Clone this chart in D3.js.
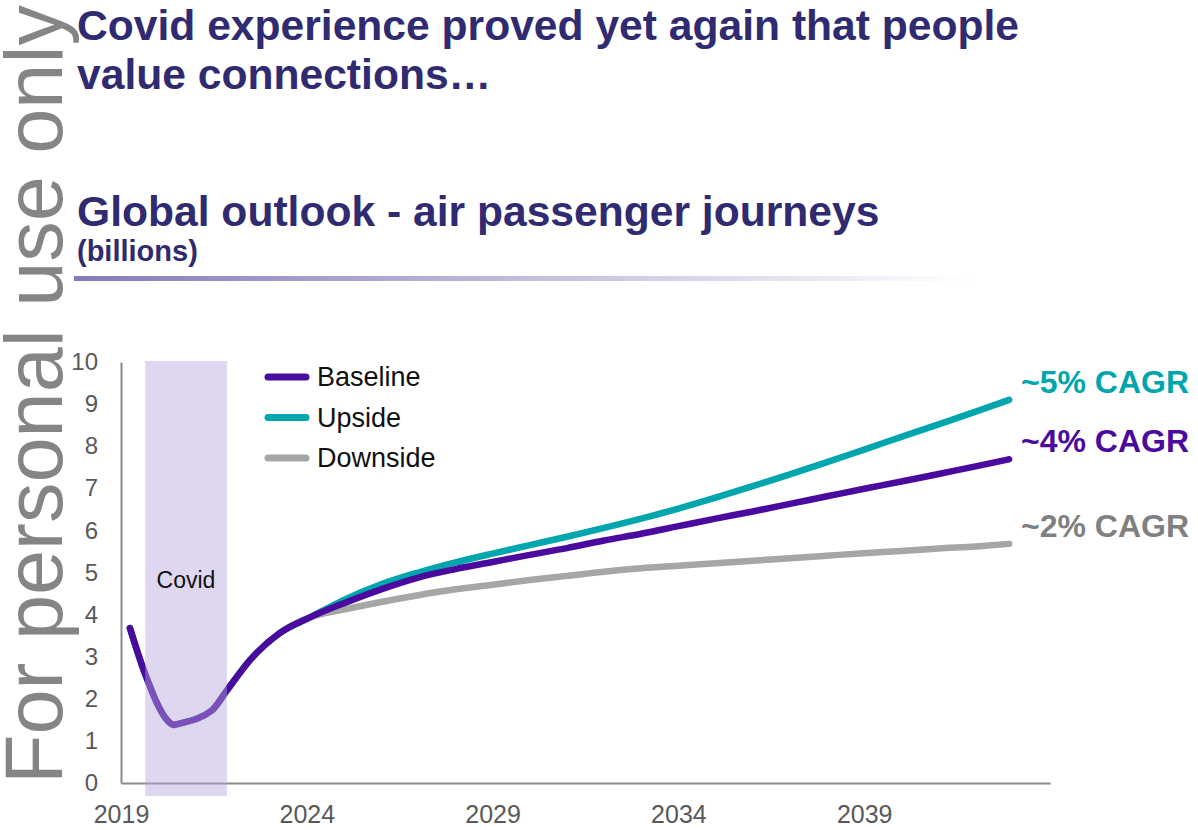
<!DOCTYPE html>
<html>
<head>
<meta charset="utf-8">
<script src="https://cdn.jsdelivr.net/npm/d3@7"></script>
<style>
  html, body { margin: 0; padding: 0; background: #ffffff; }
  svg { display: block; font-family: "Liberation Sans", Arial, Helvetica, sans-serif; }
</style>
</head>
<body>
<svg id="chart" width="1198" height="830"></svg>
<script>
// ---- Data (billions of air passenger journeys) ----
const historyYears  = [2019.24, 2019.64, 2020.33, 2020.42, 2020.52, 2021.45, 2021.85, 2022.47, 2023.27];
const historyValues = [3.68, 2.61, 1.42, 1.38, 1.40, 1.73, 2.2, 2.92, 3.56];

const forecastYears = [2024.1, 2025, 2026, 2027, 2028, 2029, 2030, 2031, 2032, 2033,
                       2034, 2035, 2036, 2037, 2038, 2039, 2040, 2041, 2042, 2042.9];
const baselineValues = [3.94, 4.27, 4.6, 4.88, 5.08, 5.25, 5.42, 5.58, 5.76, 5.92,
                        6.1, 6.28, 6.45, 6.63, 6.81, 6.99, 7.16, 7.34, 7.52, 7.69];
const upsideValues   = [3.94, 4.35, 4.72, 5.0, 5.24, 5.45, 5.65, 5.85, 6.06, 6.28,
                        6.52, 6.78, 7.05, 7.33, 7.62, 7.92, 8.22, 8.52, 8.82, 9.1];
const downsideValues = [3.94, 4.12, 4.3, 4.46, 4.6, 4.71, 4.82, 4.92, 5.02, 5.1,
                        5.16, 5.22, 5.28, 5.34, 5.4, 5.46, 5.51, 5.57, 5.62, 5.68];

const seriesNames  = ["Baseline", "Upside", "Downside"];
const seriesColors = ["#4a0a9e", "#00a6ad", "#a6a6a6"];
const cagrLabels   = ["~4% CAGR", "~5% CAGR", "~2% CAGR"];
const cagrColors   = ["#4a0a9e", "#00a6ad", "#808080"];

const covidPeriod = [2019.65, 2021.85];
const xTickYears  = [2019, 2024, 2029, 2034, 2039];
const yTickValues = [0, 1, 2, 3, 4, 5, 6, 7, 8, 9, 10];
const xDomain = [2019, 2044];
const yDomain = [0, 10];

// ---- Canvas ----
const svg = d3.select("#chart");
const titleColor = "#302b71";

const defs = svg.append("defs");
const fade = defs.append("linearGradient").attr("id", "ruleFade")
  .attr("x1", "0%").attr("x2", "100%").attr("y1", "0%").attr("y2", "0%");
fade.append("stop").attr("offset", "0%").attr("stop-color", "#8779ba");
fade.append("stop").attr("offset", "100%").attr("stop-color", "#ffffff");

// Vertical watermark along the left edge
svg.append("text")
  .attr("transform", "translate(62,784) rotate(-90)")
  .attr("font-size", 81)
  .attr("fill", "#858585")
  .text("For personal use only");

// Headline and chart title
const headline = ["Covid experience proved yet again that people", "value connections…"];
svg.selectAll("text.headline").data(headline).join("text")
  .attr("class", "headline")
  .attr("x", 77).attr("y", (d, i) => 40 + i * 49)
  .attr("font-size", 42.6).attr("font-weight", "bold").attr("fill", titleColor)
  .text(d => d);

svg.append("text")
  .attr("x", 77).attr("y", 226)
  .attr("font-size", 42.6).attr("font-weight", "bold").attr("fill", titleColor)
  .text("Global outlook - air passenger journeys");

svg.append("text")
  .attr("x", 77).attr("y", 261)
  .attr("font-size", 29).attr("font-weight", "bold").attr("fill", titleColor)
  .text("(billions)");

svg.append("rect")
  .attr("x", 74).attr("y", 276).attr("width", 900).attr("height", 5)
  .attr("fill", "url(#ruleFade)");

// ---- Scales ----
const x = d3.scaleLinear().domain(xDomain).range([121, 1050]);
const y = d3.scaleLinear().domain(yDomain).range([783, 362]);

// ---- Axes ----
const axisColor = "#8a8a8a";
const labelColor = "#595959";

const yAxis = svg.append("g")
  .attr("transform", `translate(${x(xDomain[0])},0)`)
  .call(d3.axisLeft(y).tickValues(yTickValues).tickSize(0).tickSizeOuter(0).tickPadding(23));
yAxis.select(".domain").attr("stroke", axisColor).attr("stroke-width", 2);
yAxis.selectAll("text").attr("font-size", 24).attr("fill", labelColor)
  .attr("font-family", "\"Liberation Sans\", Arial, sans-serif");

const xAxis = svg.append("g")
  .attr("transform", `translate(0,${y(yDomain[0])})`)
  .call(d3.axisBottom(x).tickValues(xTickYears).tickFormat(d3.format("d"))
    .tickSize(0).tickSizeOuter(0).tickPadding(22));
xAxis.select(".domain").attr("stroke", axisColor).attr("stroke-width", 2);
xAxis.selectAll("text").attr("font-size", 25).attr("fill", labelColor)
  .attr("font-family", "\"Liberation Sans\", Arial, sans-serif");

// ---- Lines ----
const history = historyYears.map((yr, i) => ({ year: yr, value: historyValues[i] }));
const toSeries = vals => history.concat(forecastYears.map((yr, i) => ({ year: yr, value: vals[i] })));
const series = [toSeries(baselineValues), toSeries(upsideValues), toSeries(downsideValues)];

const line = d3.line()
  .x(d => x(d.year))
  .y(d => y(d.value))
  .curve(d3.curveMonotoneX);

// draw downside, upside, then baseline on top
[2, 1, 0].forEach(i => {
  svg.append("path")
    .datum(series[i])
    .attr("fill", "none")
    .attr("stroke", seriesColors[i])
    .attr("stroke-width", 6.5)
    .attr("stroke-linecap", "round")
    .attr("stroke-linejoin", "round")
    .attr("d", line);
});

// ---- Covid shading (translucent, over the line) ----
const bandTop = y(yDomain[1]) - 1;
const bandBottom = y(yDomain[0]) + 13;
svg.append("rect")
  .attr("x", x(covidPeriod[0]))
  .attr("width", x(covidPeriod[1]) - x(covidPeriod[0]))
  .attr("y", bandTop)
  .attr("height", bandBottom - bandTop)
  .attr("fill", "#b9a7de")
  .attr("fill-opacity", 0.45);

svg.append("text")
  .attr("x", x((covidPeriod[0] + covidPeriod[1]) / 2))
  .attr("y", 588)
  .attr("text-anchor", "middle")
  .attr("font-size", 23)
  .attr("fill", "#111111")
  .text("Covid");

// ---- Legend ----
const legend = svg.append("g").attr("transform", "translate(268,377)");
seriesNames.forEach((name, i) => {
  const g = legend.append("g").attr("transform", `translate(0,${i * 40.5})`);
  g.append("line")
    .attr("x1", 0).attr("x2", 38).attr("y1", 0).attr("y2", 0)
    .attr("stroke", seriesColors[i]).attr("stroke-width", 7)
    .attr("stroke-linecap", "round");
  g.append("text")
    .attr("x", 49).attr("y", 0).attr("dy", "0.35em")
    .attr("font-size", 27).attr("fill", "#111111")
    .text(name);
});

// ---- CAGR end labels ----
series.forEach((s, i) => {
  const last = s[s.length - 1];
  svg.append("text")
    .attr("x", 1021)
    .attr("y", y(last.value) - 7)
    .attr("font-size", 32)
    .attr("font-weight", "bold")
    .attr("fill", cagrColors[i])
    .text(cagrLabels[i]);
});
</script>
</body>
</html>
